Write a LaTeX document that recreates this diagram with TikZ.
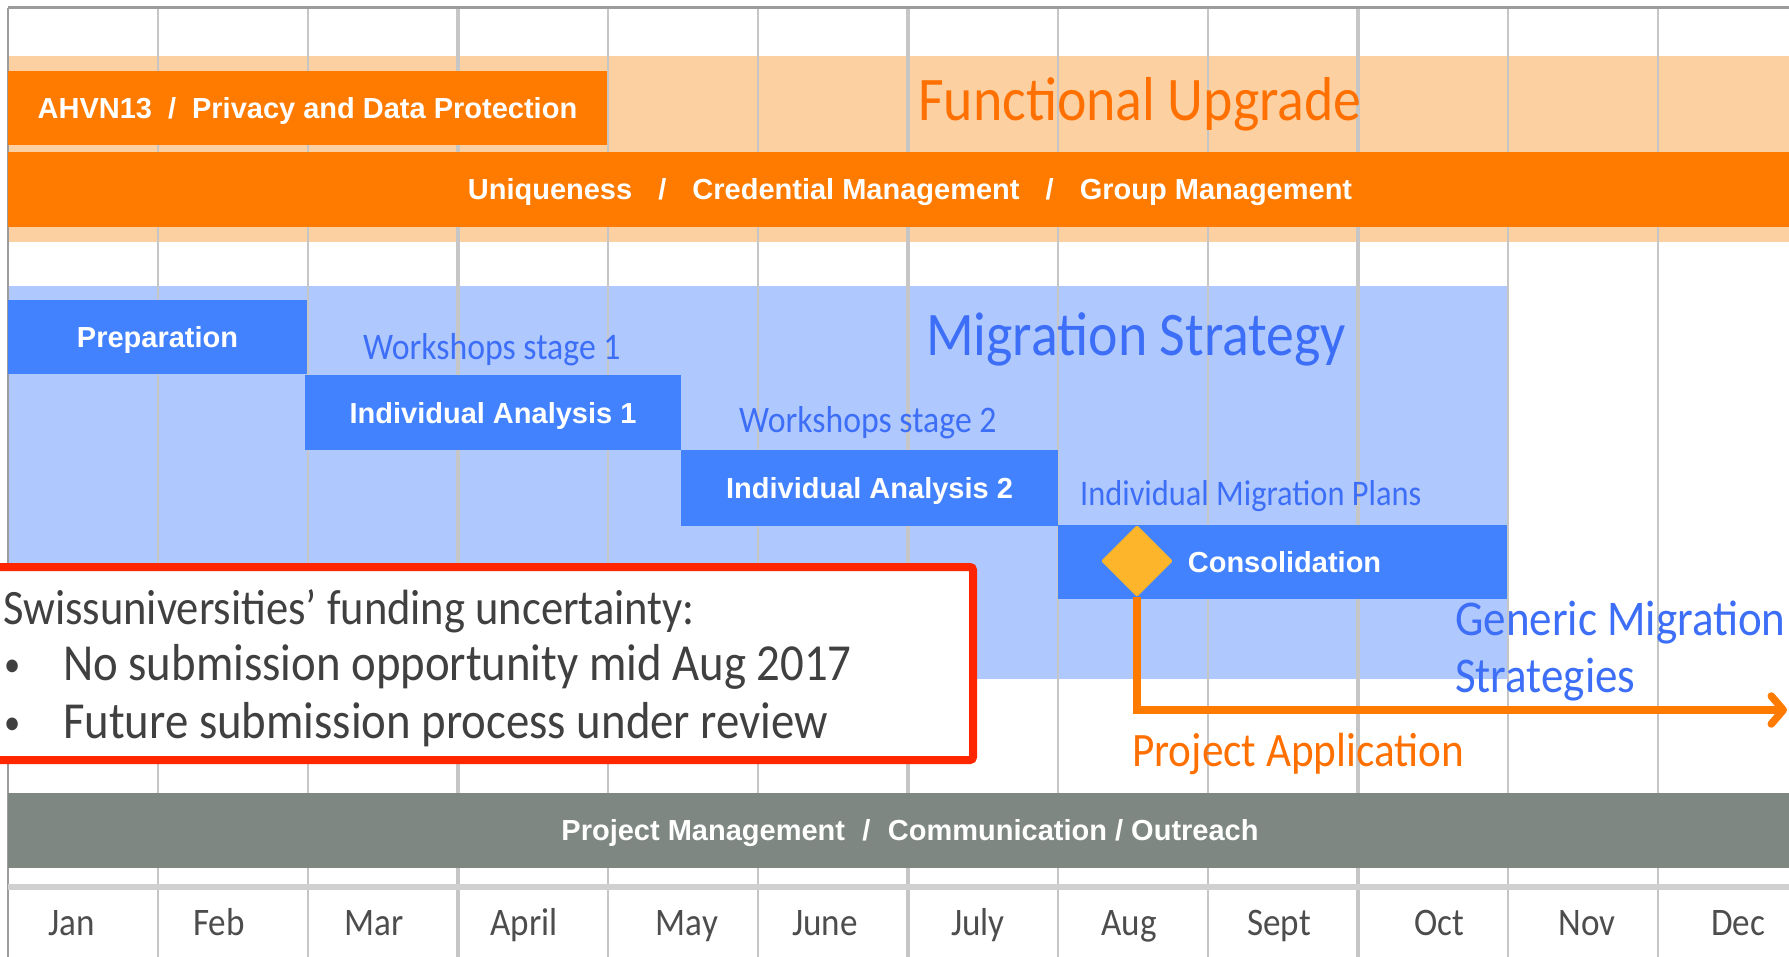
\documentclass[tikz,border=0pt]{standalone}
\usepackage{fontspec}
\setmainfont{Liberation Sans}
\newfontfamily\gill[FakeStretch=0.9]{Carlito}
\usetikzlibrary{arrows.meta,shapes.geometric}
\definecolor{lightorange}{HTML}{FDD0A2}
\definecolor{orangeC}{HTML}{FF7B00}
\definecolor{orangeT}{HTML}{FF7000}
\definecolor{lightblue}{HTML}{AFC8FD}
\definecolor{blueC}{HTML}{4282FF}
\definecolor{blueT}{HTML}{3D6EF7}
\definecolor{grayC}{HTML}{7F8782}
\definecolor{gridC}{HTML}{C6C6C6}
\definecolor{frameC}{HTML}{9C9C9C}
\definecolor{sepC}{HTML}{D0D0D0}
\definecolor{diamondC}{HTML}{FDB52B}
\definecolor{redC}{HTML}{FF2600}
\definecolor{textgray}{HTML}{404040}
\definecolor{monthgray}{HTML}{4D4D4D}
\newcommand\boldlbl{\fontsize{29}{29}\selectfont\bfseries}
\tikzset{
  taskbox/.style={rectangle, inner sep=0pt, text=white, font=\boldlbl, text height=20.8pt, text depth=0pt},
  gridline/.style={draw=gridC, line width=1.6pt},
  quarterline/.style={draw=gridC, line width=4pt},
  bluelabel/.style={anchor=base west, inner sep=0pt, text=blueT},
  orangelabel/.style={anchor=base west, inner sep=0pt, text=orangeT},
  notetext/.style={anchor=base west, inner sep=0pt, text=textgray},
  monthlabel/.style={anchor=base, inner sep=0pt, text=monthgray, font=\gill\fontsize{39}{39}\selectfont},
  connector/.style={draw=orangeC, line width=7.5pt, -{Straight Barb[round,length=12pt,width=28pt]}},
}
\begin{document}
\begin{tikzpicture}[x=1pt,y=-1pt]
\useasboundingbox (0,0) rectangle (1789,957);
\clip (0,0) rectangle (1789,957);
\fill[white] (0,0) rectangle (1789,957);
% background bands
\fill[lightorange] (8,56) rectangle (1810,242);
\fill[lightblue] (8,286) rectangle (1507,679);
% grid
\foreach \i in {1,2,4,5,7,8,10,11} {
  \draw[gridline] (8+150*\i,8) -- (8+150*\i,957);
}
\foreach \i in {3,6,9} {
  \draw[quarterline] (8+150*\i,8) -- (8+150*\i,957);
}
\draw[draw=frameC, line width=3pt] (8,8) -- (1800,8);
\draw[draw=frameC, line width=2.5pt] (8,8) -- (8,957);
\draw[draw=sepC, line width=6pt] (8,887) -- (1800,887);
% functional upgrade
\node[orangelabel, font=\gill\fontsize{62}{62}\selectfont] (fu) at (918,121) {Functional Upgrade};
\node[taskbox, fill=orangeC, minimum width=599, minimum height=74] (ahvn) at (307.5,108) {AHVN13\hspace{0.55em}/\hspace{0.55em}Privacy and Data Protection};
\node[taskbox, fill=orangeC, minimum width=1804, minimum height=75] (uniq) at (910,189.5) {Uniqueness\hspace{0.9em}/\hspace{0.9em}Credential Management\hspace{0.9em}/\hspace{0.9em}Group Management};
% migration strategy
\node[bluelabel, font=\gill\fontsize{62}{62}\selectfont] (ms) at (926,356) {Migration Strategy};
\node[taskbox, fill=blueC, minimum width=299, minimum height=74] (prep) at (157.5,337.5) {Preparation};
\node[bluelabel, font=\gill\fontsize{37.5}{37.5}\selectfont] (ws1) at (363,360) {Workshops stage 1};
\node[taskbox, fill=blueC, minimum width=376, minimum height=75] (ia1) at (493,413) {Individual Analysis 1};
\node[bluelabel, font=\gill\fontsize{37.5}{37.5}\selectfont] (ws2) at (739,433) {Workshops stage 2};
\node[taskbox, fill=blueC, minimum width=377, minimum height=75] (ia2) at (869.5,488) {Individual Analysis 2};
\node[bluelabel, font=\gill\fontsize{36}{36}\selectfont] (imp) at (1080,505) {Individual Migration Plans};
\node[taskbox, fill=blueC, minimum width=449, minimum height=74] (cons) at (1282.5,562) {\hspace{4pt}Consolidation};
\node[bluelabel, font=\gill\fontsize{50}{50}\selectfont] (gms) at (1455,635) {Generic Migration};
\node[bluelabel, font=\gill\fontsize{50}{50}\selectfont] (gms2) at (1455,692) {Strategies};
% milestone and connector
\coordinate (tipend) at (1787,710);
\node[diamond, fill=diamondC, minimum width=72, minimum height=72, inner sep=0pt, rounded corners=2pt] (mile) at (1137,561) {};
\draw[connector] (mile.south) |- (tipend);
\node[orangelabel, font=\gill\fontsize{48}{48}\selectfont] (pa) at (1132,766) {Project Application};
% project management bar
\node[taskbox, fill=grayC, minimum width=1804, minimum height=75] (pm) at (910,830) {Project Management\hspace{0.6em}/\hspace{0.6em}Communication / Outreach};
% note box
\node[rectangle, draw=redC, fill=white, line width=8pt, rounded corners=3pt, minimum width=983, minimum height=193, inner sep=0pt] (note) at (481.5,663.5) {};
\node[notetext, font=\gill\fontsize{49.5}{49.5}\selectfont] (nt) at (3,624) {Swissuniversities’ funding uncertainty:};
\node[notetext, font=\gill\fontsize{36}{36}\selectfont] (b1) at (4,676) {•};
\node[notetext, font=\gill\fontsize{52}{52}\selectfont] (n1) at (63,680) {No submission opportunity mid Aug 2017};
\node[notetext, font=\gill\fontsize{36}{36}\selectfont] (b2) at (4,734) {•};
\node[notetext, font=\gill\fontsize{52}{52}\selectfont] (n2) at (63,738) {Future submission process under review};
% months
\foreach \m/\x [count=\k] in {Jan/72,Feb/219,Mar/374,April/524,May/687,June/825,July/978,Aug/1129,Sept/1279,Oct/1439,Nov/1587,Dec/1738} {
  \node[monthlabel] (month\k) at (\x,935) {\m};
}
\end{tikzpicture}
\end{document}
